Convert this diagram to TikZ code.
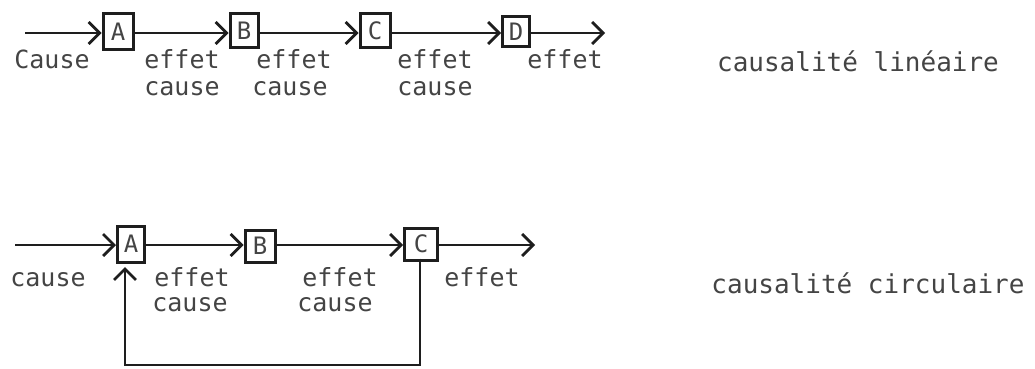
\documentclass[tikz,border=0pt]{standalone}
\usepackage{fontspec}
\setmonofont{DejaVu Sans Mono}
\usetikzlibrary{arrows.meta}
\definecolor{ink}{HTML}{1e1e1e}
\definecolor{txt}{HTML}{444444}
\tikzset{
  box/.style={draw=ink, line width=3pt, inner sep=0pt, font=\ttfamily\fontsize{24}{24}\selectfont, text=txt},
  lbl/.style={font=\ttfamily\fontsize{25}{25}\selectfont, text=txt, inner sep=0pt, text height=18pt, text depth=1pt},
  big/.style={font=\ttfamily\fontsize{26}{26}\selectfont, text=txt, inner sep=0pt},
  conn/.style={draw=ink, line width=2.8pt, -{Straight Barb[length=11pt,width=22pt,line width=2.8pt]}},
}
\begin{document}
\begin{tikzpicture}[x=1pt,y=-1pt]
\useasboundingbox (0,0) rectangle (1035,369);
% top row
\coordinate (s1) at (25,33);
\node[box, minimum width=30pt, minimum height=36pt] (A1) at (118,32) {A};
\node[box, minimum width=28pt, minimum height=34pt] (B1) at (244,31) {B};
\node[box, minimum width=30pt, minimum height=34pt] (C1) at (375,31) {C};
\node[box, minimum width=27pt, minimum height=30pt] (D1) at (516,32) {D};
\coordinate (e1) at (605,33);
\draw[conn] (s1) -- (A1.west |- s1);
\draw[conn] (A1.east |- s1) -- (B1.west |- s1);
\draw[conn] (B1.east |- s1) -- (C1.west |- s1);
\draw[conn] (C1.east |- s1) -- (D1.west |- s1);
\draw[conn] (D1.east |- s1) -- (e1);
\node[lbl] (t1) at (52,60) {Cause};
\node[lbl] (t2) at (182,60) {effet};
\node[lbl] (t3) at (182,87) {cause};
\node[lbl] (t4) at (294,60) {effet};
\node[lbl] (t5) at (290,87) {cause};
\node[lbl] (t6) at (435,60) {effet};
\node[lbl] (t7) at (435,87) {cause};
\node[lbl] (t8) at (565,60) {effet};
\node[big] (L1) at (858,61) {causalité linéaire};
% bottom row
\coordinate (s2) at (15,245);
\node[box, minimum width=27pt, minimum height=36pt] (A2) at (131,244) {A};
\node[box, minimum width=30pt, minimum height=32pt] (B2) at (260,246) {B};
\node[box, minimum width=33pt, minimum height=32pt] (C2) at (421,244) {C};
\coordinate (e2) at (535,245);
\draw[conn] (s2) -- (A2.west |- s2);
\draw[conn] (A2.east |- s2) -- (B2.west |- s2);
\draw[conn] (B2.east |- s2) -- (C2.west |- s2);
\draw[conn] (C2.east |- s2) -- (e2);
\coordinate (f1) at (420,365);
\coordinate (f2) at (125,365);
\coordinate (f3) at (125,267);
\draw[conn] ([yshift=3pt]C2.south -| f1) -- (f1) -- (f2) -- (f3);
\node[lbl] (u1) at (48,278) {cause};
\node[lbl] (u2) at (192,278) {effet};
\node[lbl] (u3) at (190,303) {cause};
\node[lbl] (u4) at (340,278) {effet};
\node[lbl] (u5) at (335,303) {cause};
\node[lbl] (u6) at (482,278) {effet};
\node[big] (L2) at (868,283) {causalité circulaire};
\end{tikzpicture}
\end{document}
